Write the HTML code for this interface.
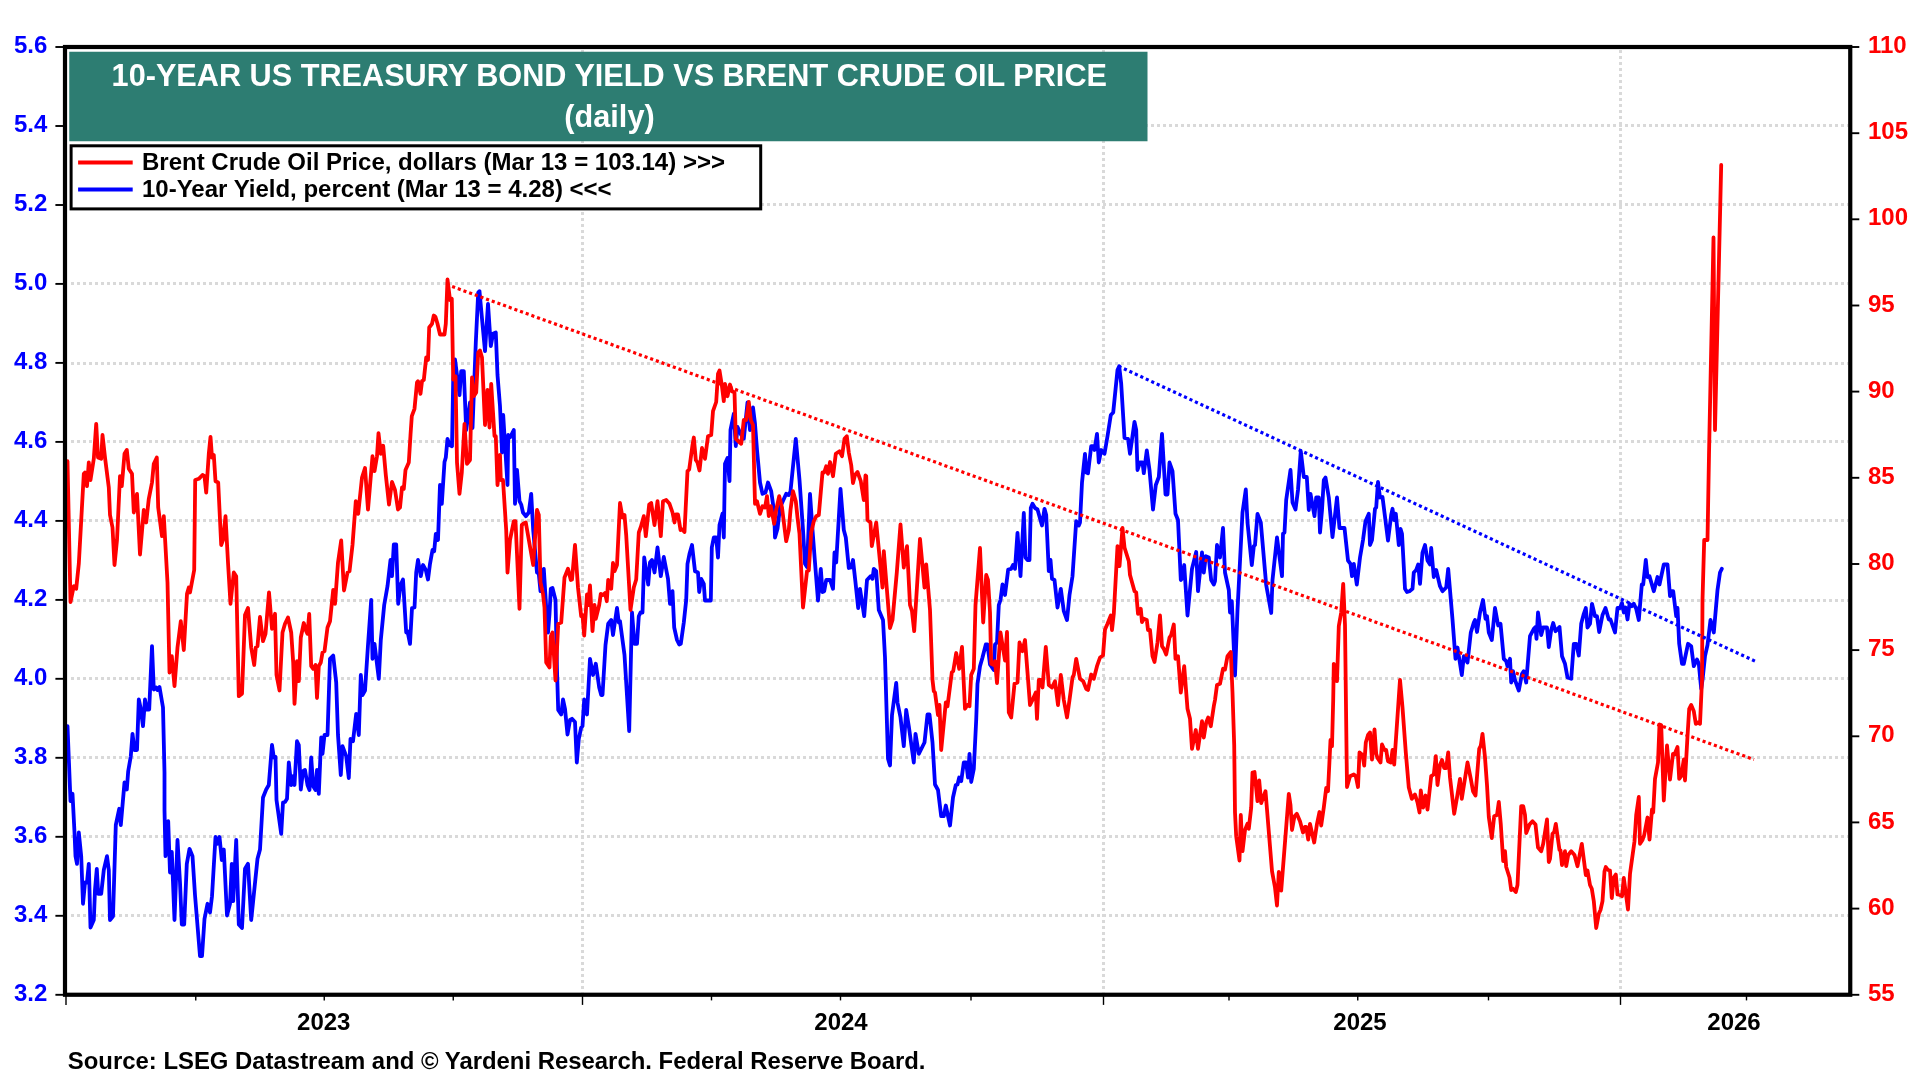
<!DOCTYPE html>
<html lang="en"><head><meta charset="utf-8"><title>10-Year US Treasury Bond Yield vs Brent Crude Oil Price</title>
<style>html,body{margin:0;padding:0;background:#fff;}body{width:1920px;height:1080px;overflow:hidden;}svg{display:block;will-change:transform;}text{font-family:"Liberation Sans",sans-serif;font-weight:bold;}</style></head><body>
<svg width="1920" height="1080" viewBox="0 0 1920 1080">
<rect width="1920" height="1080" fill="#fff"/>
<g stroke="#d9d9d9" stroke-width="3" stroke-dasharray="3 3" fill="none">
<line x1="71" y1="125.5" x2="1848" y2="125.5"/>
<line x1="71" y1="204.5" x2="1848" y2="204.5"/>
<line x1="71" y1="283.5" x2="1848" y2="283.5"/>
<line x1="71" y1="363.5" x2="1848" y2="363.5"/>
<line x1="71" y1="441.5" x2="1848" y2="441.5"/>
<line x1="71" y1="520.5" x2="1848" y2="520.5"/>
<line x1="71" y1="600.5" x2="1848" y2="600.5"/>
<line x1="71" y1="678.5" x2="1848" y2="678.5"/>
<line x1="71" y1="757.5" x2="1848" y2="757.5"/>
<line x1="71" y1="836.5" x2="1848" y2="836.5"/>
<line x1="71" y1="915.5" x2="1848" y2="915.5"/>
<line x1="582.5" y1="50" x2="582.5" y2="992.5"/>
<line x1="1103.5" y1="50" x2="1103.5" y2="992.5"/>
<line x1="1620.5" y1="50" x2="1620.5" y2="992.5"/>
</g>
<rect x="69.25" y="51.75" width="1078.25" height="89.5" fill="#2d7d72"/>
<text x="609.3" y="85.5" font-size="30.67" fill="#fff" text-anchor="middle">10-YEAR US TREASURY BOND YIELD VS BRENT CRUDE OIL PRICE</text>
<text x="609.5" y="126.6" font-size="30.67" fill="#fff" text-anchor="middle">(daily)</text>
<rect x="71.1" y="145.8" width="689.6" height="63.1" fill="#fff" stroke="#000" stroke-width="3"/>
<line x1="78.1" y1="162.6" x2="132.7" y2="162.6" stroke="#f00" stroke-width="4"/>
<line x1="78.1" y1="189.6" x2="132.7" y2="189.6" stroke="#00f" stroke-width="4"/>
<text x="142" y="169.7" font-size="24" fill="#000">Brent Crude Oil Price, dollars (Mar 13 = 103.14) &gt;&gt;&gt;</text>
<text x="142" y="196.8" font-size="24" fill="#000">10-Year Yield, percent (Mar 13 = 4.28) &lt;&lt;&lt;</text>
<path d="M67.5,726.2 L70.5,801.2 L72.5,793.8 L74.5,832.5 L75.5,856.2 L77.0,863.8 L78.8,832.5 L81.2,856.2 L83.0,903.8 L85.0,882.5 L87.0,882.5 L88.8,863.8 L90.5,927.5 L93.8,920.0 L95.0,890.0 L96.8,868.8 L98.2,893.8 L101.2,893.8 L103.8,870.0 L107.0,856.2 L108.8,870.0 L110.0,920.0 L113.0,916.2 L115.8,825.0 L119.2,808.8 L120.8,825.0 L124.5,782.5 L126.8,789.5 L128.2,771.2 L130.8,756.2 L132.5,733.8 L134.5,750.0 L137.0,750.0 L138.8,699.5 L140.5,707.5 L143.0,726.2 L145.0,699.5 L147.0,709.5 L149.2,709.5 L152.0,646.2 L153.8,689.5 L156.2,687.5 L157.5,690.0 L159.5,687.0 L163.0,707.5 L164.5,772.5 L164.5,810.0 L165.5,856.2 L168.2,821.2 L170.0,872.5 L171.8,852.0 L174.5,920.0 L177.5,840.0 L180.0,882.5 L181.8,924.5 L184.2,924.5 L186.8,863.8 L189.5,848.8 L192.5,856.2 L195.0,895.0 L200.0,956.2 L202.0,956.2 L204.5,918.8 L207.5,903.8 L210.0,912.5 L212.0,896.2 L215.5,837.0 L217.5,843.8 L219.5,837.0 L221.8,860.0 L223.8,849.5 L227.0,915.5 L230.0,903.8 L231.8,863.8 L233.2,901.2 L236.2,840.0 L238.8,924.5 L242.0,928.0 L245.0,868.8 L248.0,863.8 L251.2,920.0 L257.5,858.8 L260.0,849.5 L263.0,797.5 L266.2,789.5 L268.8,785.0 L272.0,745.0 L273.8,757.5 L275.5,757.0 L276.5,800.0 L281.2,833.8 L283.0,802.5 L285.0,802.0 L287.0,798.8 L288.8,762.5 L291.2,785.0 L293.0,776.2 L294.5,785.0 L297.0,741.2 L298.8,745.0 L300.8,789.5 L303.0,771.2 L305.0,770.0 L307.5,785.0 L309.5,790.0 L311.2,757.5 L313.2,786.2 L315.5,790.0 L317.0,770.0 L318.8,793.8 L321.2,737.5 L322.5,753.8 L324.5,735.0 L327.5,735.0 L330.0,658.8 L333.2,655.5 L336.2,682.5 L338.0,735.0 L340.8,775.0 L342.5,746.2 L346.2,756.2 L348.8,778.0 L350.5,738.8 L353.0,741.2 L356.2,713.8 L358.8,735.0 L360.8,675.0 L362.5,695.0 L365.0,690.5 L368.0,645.0 L371.2,600.0 L372.5,658.8 L374.5,643.8 L378.8,678.8 L380.8,640.0 L384.2,605.0 L387.5,586.2 L390.5,560.0 L392.0,576.2 L393.8,544.5 L396.2,544.5 L398.2,603.8 L400.5,585.0 L403.0,579.5 L406.2,632.5 L407.5,631.2 L410.0,643.8 L412.0,608.0 L414.5,607.5 L416.2,572.5 L418.0,560.0 L420.8,576.2 L423.0,565.0 L425.8,570.0 L428.0,579.5 L430.0,563.8 L432.5,550.0 L434.2,551.2 L435.8,533.8 L438.0,540.0 L440.0,485.0 L441.8,503.8 L444.5,462.0 L445.8,457.5 L447.5,438.8 L449.5,445.0 L452.0,446.2 L453.2,380.0 L455.0,359.5 L457.0,375.0 L459.5,395.0 L461.2,371.2 L463.8,371.2 L466.2,430.0 L470.0,402.5 L472.5,428.0 L475.8,342.5 L478.2,292.5 L479.5,291.2 L481.2,310.0 L485.0,351.2 L488.0,303.8 L490.8,346.2 L493.0,333.8 L495.8,332.5 L497.5,375.0 L500.0,406.2 L502.0,452.5 L503.2,415.0 L507.5,485.0 L508.2,435.0 L510.0,437.5 L513.8,430.0 L515.0,503.8 L517.0,470.0 L519.5,501.2 L521.2,504.5 L523.0,512.5 L525.8,516.2 L528.8,512.5 L531.2,493.8 L533.2,530.0 L537.0,572.5 L538.8,573.8 L540.5,591.2 L543.8,568.8 L546.2,607.5 L548.0,632.5 L549.5,613.8 L550.8,588.8 L552.5,588.0 L555.5,600.0 L557.0,670.0 L558.2,710.0 L561.2,714.5 L563.0,699.5 L565.0,708.8 L567.5,734.5 L570.0,720.0 L572.0,718.8 L575.0,722.0 L576.8,762.5 L578.8,738.8 L581.2,727.5 L582.5,726.2 L584.2,699.5 L587.0,714.5 L590.0,658.8 L593.0,675.0 L595.8,663.8 L599.2,687.5 L601.2,695.0 L602.5,695.0 L605.5,645.0 L608.2,623.8 L611.2,620.0 L613.0,635.0 L617.0,608.0 L618.8,622.5 L620.0,621.2 L624.5,655.0 L629.2,731.2 L632.0,612.5 L634.5,643.8 L637.0,643.8 L638.8,616.2 L640.5,612.5 L642.5,612.5 L644.2,557.5 L648.2,584.5 L650.0,562.5 L652.0,560.0 L654.5,572.5 L657.5,547.5 L660.8,576.2 L663.8,557.0 L668.0,578.8 L670.0,603.8 L672.5,591.2 L674.2,627.5 L677.0,640.0 L679.2,644.5 L680.8,643.8 L683.8,622.5 L686.2,600.0 L687.5,563.8 L689.5,553.8 L692.0,545.0 L695.0,571.2 L698.0,572.5 L699.2,592.0 L701.2,578.8 L703.8,583.8 L705.0,600.5 L710.8,600.5 L711.8,547.5 L713.8,537.5 L716.2,537.5 L718.0,557.5 L719.5,525.0 L722.5,513.8 L723.8,537.5 L725.0,463.8 L727.5,458.0 L729.5,481.2 L730.5,430.0 L733.8,413.8 L735.8,446.2 L737.5,427.0 L741.2,435.0 L743.8,438.8 L747.5,402.5 L750.0,430.0 L753.0,407.5 L755.0,423.8 L757.0,450.0 L760.0,482.5 L762.5,493.8 L765.5,492.5 L768.0,482.5 L771.2,491.2 L774.2,512.5 L775.0,537.5 L777.5,528.8 L780.0,507.5 L786.2,493.8 L788.8,495.0 L790.5,491.2 L795.8,438.8 L799.5,480.0 L803.0,530.0 L805.0,563.8 L807.0,567.0 L810.0,493.8 L812.5,530.0 L815.0,562.5 L818.0,600.5 L820.8,568.8 L822.5,592.0 L824.2,591.2 L826.2,580.0 L830.0,580.0 L833.0,588.8 L834.5,552.5 L836.2,562.5 L840.5,488.8 L843.8,530.0 L845.8,537.5 L848.8,568.0 L851.2,567.5 L853.0,560.0 L855.5,582.5 L858.2,608.0 L860.0,588.8 L864.2,616.2 L867.0,580.0 L870.5,576.2 L872.5,578.8 L873.8,568.8 L876.2,571.2 L878.8,610.0 L883.0,620.0 L885.0,657.5 L888.0,758.8 L890.0,765.5 L892.0,715.0 L896.2,683.0 L897.5,702.5 L900.5,717.5 L903.8,746.2 L906.2,710.0 L908.8,726.2 L913.8,762.5 L915.5,733.8 L918.8,753.8 L924.5,742.5 L927.5,714.5 L929.5,714.5 L932.5,742.5 L935.0,784.5 L938.0,790.0 L941.2,816.2 L943.8,816.2 L945.8,805.5 L950.0,825.5 L953.0,797.5 L955.8,785.0 L957.5,784.5 L959.2,777.5 L961.2,781.2 L963.8,762.5 L966.2,762.5 L968.0,777.5 L969.5,753.8 L971.2,782.0 L973.8,768.8 L976.2,720.0 L977.5,683.8 L980.0,666.2 L982.5,657.5 L985.8,644.5 L987.5,644.5 L990.0,664.5 L993.8,670.0 L995.0,644.5 L997.0,642.5 L998.8,605.0 L1000.5,600.0 L1002.5,584.5 L1005.0,595.0 L1008.2,569.5 L1011.2,568.8 L1013.0,565.0 L1015.0,568.8 L1017.5,533.0 L1020.5,576.2 L1023.8,513.0 L1025.5,557.5 L1027.5,560.0 L1029.5,560.0 L1030.8,508.0 L1032.5,503.8 L1035.0,508.0 L1037.5,509.5 L1042.0,525.5 L1044.5,508.8 L1046.2,515.0 L1048.8,571.2 L1050.5,560.0 L1052.0,578.8 L1054.5,580.0 L1057.5,607.5 L1060.8,588.8 L1063.8,611.2 L1067.0,620.0 L1069.5,595.0 L1072.5,576.2 L1076.2,521.2 L1078.8,525.5 L1080.0,522.5 L1082.0,482.5 L1085.0,453.8 L1086.2,472.5 L1088.0,473.2 L1091.2,446.2 L1093.8,446.2 L1094.5,450.0 L1097.0,433.8 L1098.8,462.5 L1101.2,450.0 L1104.5,453.8 L1107.5,436.2 L1110.8,415.0 L1113.2,412.5 L1117.5,370.0 L1119.2,366.2 L1121.2,383.8 L1124.5,438.0 L1128.0,438.8 L1130.0,453.8 L1134.5,421.8 L1136.2,430.0 L1137.5,470.0 L1140.0,462.5 L1142.5,462.5 L1143.8,473.2 L1146.8,450.5 L1149.5,470.0 L1153.0,509.5 L1155.8,485.0 L1158.8,477.0 L1162.0,433.8 L1165.5,494.5 L1167.5,494.5 L1169.5,462.5 L1172.5,471.2 L1175.5,513.8 L1178.0,520.0 L1180.8,580.0 L1181.8,578.8 L1184.2,565.0 L1187.5,615.5 L1192.0,568.8 L1196.2,552.0 L1198.0,591.2 L1202.0,552.5 L1203.8,572.5 L1205.8,556.2 L1208.8,557.5 L1211.2,580.0 L1213.8,584.5 L1215.0,581.2 L1217.0,545.0 L1220.0,557.5 L1223.0,528.0 L1225.0,572.5 L1228.8,590.0 L1230.0,612.5 L1231.8,601.2 L1235.0,675.5 L1237.5,610.0 L1242.5,512.5 L1245.8,489.5 L1247.5,522.5 L1251.8,565.0 L1253.8,546.2 L1255.0,545.0 L1257.5,513.8 L1260.8,522.5 L1266.2,585.0 L1271.2,613.0 L1272.5,580.0 L1277.0,537.5 L1282.0,576.2 L1283.0,533.8 L1284.5,532.5 L1286.2,500.0 L1290.5,470.0 L1292.5,502.5 L1295.5,509.5 L1298.0,490.0 L1300.8,451.2 L1303.8,477.0 L1306.8,477.0 L1308.8,510.0 L1310.5,493.8 L1314.5,516.2 L1316.2,497.5 L1318.8,497.5 L1320.0,532.5 L1322.0,510.0 L1323.8,480.0 L1325.5,477.5 L1328.8,497.5 L1332.5,537.0 L1337.0,497.5 L1339.5,528.0 L1344.5,528.0 L1348.0,560.5 L1350.5,563.8 L1352.0,576.2 L1353.8,563.8 L1356.8,584.5 L1360.0,557.5 L1363.0,540.0 L1365.5,521.2 L1368.8,513.8 L1370.0,545.0 L1372.0,540.0 L1375.0,508.8 L1376.2,507.5 L1378.0,482.0 L1380.0,497.5 L1382.5,497.0 L1388.0,540.5 L1391.2,515.0 L1392.5,508.8 L1394.2,520.0 L1395.8,513.8 L1398.8,545.0 L1400.5,528.8 L1402.0,533.8 L1405.0,588.8 L1407.0,592.0 L1409.5,591.2 L1412.5,588.8 L1413.8,572.5 L1416.2,570.0 L1418.2,564.5 L1420.0,583.8 L1422.5,552.5 L1425.0,545.0 L1427.5,560.5 L1430.0,564.5 L1431.2,548.0 L1433.8,577.0 L1436.2,570.0 L1440.0,586.2 L1442.5,591.2 L1446.2,587.5 L1448.2,568.8 L1452.5,619.5 L1455.5,658.8 L1457.5,647.5 L1461.8,675.0 L1463.8,656.2 L1467.5,662.5 L1470.8,632.5 L1473.8,622.5 L1475.0,620.0 L1477.0,632.0 L1480.0,612.5 L1483.0,600.0 L1485.5,618.8 L1487.0,616.2 L1488.8,632.5 L1491.8,640.0 L1495.0,608.0 L1498.2,625.5 L1500.5,623.8 L1503.8,658.8 L1506.2,661.2 L1507.5,666.2 L1510.0,658.8 L1511.2,682.5 L1513.0,671.2 L1515.0,680.0 L1518.8,690.5 L1522.0,673.8 L1523.8,671.2 L1526.2,682.5 L1530.0,636.2 L1533.8,628.8 L1535.5,627.0 L1536.5,638.8 L1538.0,612.5 L1541.2,635.0 L1543.2,627.5 L1547.0,627.5 L1548.8,647.0 L1551.2,630.0 L1553.2,623.0 L1555.5,631.2 L1559.5,627.0 L1562.0,656.2 L1565.0,663.8 L1567.5,677.5 L1571.2,678.8 L1573.8,643.8 L1576.2,643.8 L1578.8,655.5 L1581.2,623.8 L1583.8,613.8 L1585.8,608.0 L1587.5,627.5 L1590.0,623.8 L1592.0,603.8 L1595.0,616.2 L1597.0,616.2 L1599.2,632.0 L1602.5,615.0 L1605.5,608.0 L1608.8,619.5 L1610.5,619.5 L1615.0,632.5 L1617.5,608.0 L1620.0,608.0 L1622.0,603.0 L1623.8,612.5 L1625.5,607.5 L1627.5,619.5 L1629.5,603.8 L1631.8,606.2 L1633.8,603.8 L1636.2,608.8 L1638.8,620.0 L1641.8,584.5 L1643.2,584.5 L1645.8,560.0 L1647.5,577.0 L1649.5,576.2 L1653.8,591.2 L1657.5,577.0 L1659.5,584.5 L1663.8,564.5 L1667.5,564.5 L1670.0,596.2 L1671.2,591.2 L1673.2,591.2 L1676.2,616.2 L1677.5,608.0 L1679.2,643.8 L1682.0,663.8 L1683.8,663.8 L1688.0,643.8 L1691.2,646.2 L1693.8,666.2 L1697.0,659.5 L1698.8,663.8 L1701.2,688.8 L1702.5,680.0 L1705.0,656.2 L1707.5,645.0 L1710.5,620.0 L1713.8,632.5 L1717.5,590.0 L1720.0,572.5 L1721.8,568.8" fill="none" stroke="#0000ff" stroke-width="3.8" stroke-linejoin="round" stroke-linecap="round"/>
<path d="M67.5,461.2 L70.5,602.0 L73.8,586.2 L76.2,588.8 L78.8,563.8 L83.8,473.8 L85.0,472.5 L87.0,486.2 L88.8,462.5 L90.5,480.0 L93.8,458.8 L96.2,423.8 L98.0,457.5 L101.2,458.8 L102.5,435.0 L105.0,457.5 L108.8,487.5 L110.0,515.0 L112.5,527.5 L114.5,565.0 L117.0,540.0 L120.0,476.2 L121.8,486.2 L124.5,453.8 L126.8,450.0 L128.8,468.8 L132.0,473.8 L133.8,512.5 L137.0,493.8 L140.0,554.5 L143.8,510.0 L146.2,522.5 L148.8,498.8 L152.0,482.5 L153.8,463.8 L156.8,457.5 L158.2,507.5 L162.0,536.2 L163.8,516.2 L167.5,582.5 L169.5,672.5 L171.8,656.2 L174.5,686.2 L177.5,647.5 L180.8,621.2 L183.8,650.0 L187.0,593.8 L188.8,587.5 L190.0,592.5 L194.2,570.0 L195.2,480.0 L198.8,478.8 L202.5,475.0 L204.5,476.2 L206.2,492.5 L208.8,453.8 L210.5,437.0 L212.0,457.5 L213.8,455.0 L215.5,481.2 L218.2,482.5 L221.2,545.0 L223.0,540.0 L225.5,516.2 L228.0,562.5 L230.5,603.8 L233.8,572.5 L236.2,576.2 L238.8,696.2 L242.0,693.8 L245.0,615.0 L248.0,608.0 L251.2,647.5 L254.2,665.0 L255.8,647.5 L257.5,646.2 L260.0,617.0 L263.0,641.2 L265.5,633.8 L269.0,592.5 L272.0,628.8 L275.0,613.8 L276.5,675.0 L279.5,690.5 L282.5,632.5 L285.0,623.8 L288.0,617.5 L291.2,632.5 L293.2,662.5 L294.5,703.8 L297.0,661.2 L298.8,681.2 L300.8,637.5 L303.8,623.0 L306.2,631.2 L307.5,633.8 L309.2,613.8 L311.2,666.2 L313.2,668.8 L315.5,665.0 L317.0,698.0 L318.8,666.2 L320.8,662.5 L322.5,652.5 L324.5,651.2 L327.5,627.5 L330.0,621.2 L333.2,590.0 L335.0,603.8 L338.0,562.5 L341.2,540.5 L344.0,590.5 L347.5,572.5 L349.5,571.2 L352.5,545.0 L355.8,501.2 L358.2,513.8 L362.0,477.5 L365.0,468.0 L368.0,509.5 L372.5,456.2 L374.5,471.2 L377.0,456.2 L378.5,433.2 L380.8,453.8 L383.2,445.8 L385.8,475.0 L389.0,504.5 L392.0,482.0 L395.0,490.0 L398.0,509.5 L400.0,507.5 L402.0,487.5 L403.8,488.8 L405.5,470.0 L408.8,462.5 L410.5,435.0 L411.8,416.2 L414.5,408.8 L417.0,382.5 L418.0,381.2 L420.5,393.8 L422.0,381.2 L423.8,380.0 L426.2,357.5 L428.0,360.0 L429.2,327.5 L432.0,323.8 L433.8,315.5 L435.5,317.0 L437.5,323.8 L440.0,334.5 L444.5,334.5 L445.8,323.8 L447.5,279.5 L450.0,300.0 L451.8,298.8 L453.2,379.5 L455.5,376.2 L457.0,462.5 L459.5,493.8 L461.8,472.5 L464.5,423.8 L467.0,463.8 L470.0,460.0 L472.0,377.5 L473.8,396.2 L476.2,392.5 L478.2,352.5 L480.0,350.5 L482.0,357.5 L485.0,425.0 L487.5,390.0 L489.5,427.5 L491.2,383.8 L494.5,436.2 L495.8,436.2 L497.5,485.0 L500.0,455.0 L500.8,480.0 L503.0,480.0 L506.2,530.0 L507.5,572.5 L510.0,540.0 L513.8,521.2 L515.5,521.2 L519.5,608.8 L521.8,525.0 L523.2,523.8 L525.8,522.5 L533.2,565.0 L537.0,510.0 L538.8,515.0 L540.5,582.5 L543.0,593.8 L544.5,607.5 L546.2,662.5 L549.5,667.5 L550.8,636.2 L552.5,632.5 L555.5,680.5 L558.2,623.8 L561.2,622.5 L564.5,577.5 L568.0,568.8 L570.8,580.0 L572.0,579.5 L575.0,545.0 L578.0,587.5 L581.2,616.2 L582.5,615.0 L584.2,635.5 L587.0,594.5 L588.2,605.0 L590.0,585.5 L592.5,631.2 L594.5,605.0 L595.8,618.8 L599.2,605.0 L600.8,593.8 L603.0,595.0 L605.0,593.0 L606.8,601.2 L608.2,580.0 L611.2,588.8 L613.0,563.0 L614.5,571.2 L617.0,565.0 L620.0,503.0 L622.5,517.5 L624.5,515.0 L626.2,535.0 L630.5,610.0 L633.8,587.5 L636.2,579.5 L638.8,532.5 L640.8,527.0 L643.8,516.2 L645.8,536.2 L649.2,504.5 L651.2,503.0 L654.5,525.0 L657.5,501.2 L660.8,536.2 L663.0,501.2 L666.2,500.0 L669.5,503.8 L672.5,512.5 L674.5,522.5 L675.8,514.5 L678.0,514.5 L680.5,530.0 L682.5,529.5 L684.5,532.0 L687.5,471.2 L689.2,469.5 L692.5,445.0 L693.8,437.5 L695.8,460.0 L697.5,462.5 L699.5,470.5 L702.0,448.0 L705.0,458.8 L708.0,436.2 L711.2,435.0 L713.0,411.2 L716.2,402.0 L718.0,373.8 L719.5,370.5 L721.8,385.0 L723.8,401.2 L725.0,383.8 L727.5,396.2 L730.0,384.5 L732.0,391.2 L734.5,392.5 L735.8,438.8 L739.2,442.0 L741.2,443.8 L743.8,420.0 L746.2,420.0 L748.8,402.0 L750.8,420.0 L753.0,425.0 L755.0,503.8 L757.0,501.2 L760.0,513.8 L762.5,506.2 L765.0,507.5 L767.0,496.2 L768.8,516.2 L770.8,506.2 L774.2,523.8 L776.2,510.0 L779.2,496.2 L782.0,507.5 L786.2,541.2 L788.8,530.0 L790.5,510.0 L793.0,491.2 L795.8,501.2 L797.5,517.5 L799.5,533.8 L803.0,607.5 L807.0,571.2 L808.8,570.5 L811.2,532.5 L813.8,521.2 L816.2,516.2 L818.8,515.0 L822.5,472.5 L824.2,472.5 L826.2,466.2 L828.0,473.8 L830.0,462.0 L833.0,476.2 L835.8,453.8 L839.5,451.2 L842.0,456.2 L844.5,438.8 L846.8,436.2 L848.8,452.5 L851.2,465.0 L853.0,483.0 L855.0,475.0 L857.5,472.0 L860.8,481.2 L863.8,500.0 L865.5,475.5 L866.2,476.2 L867.5,520.0 L870.5,522.5 L871.8,546.2 L876.2,522.5 L882.5,587.5 L883.8,551.2 L890.0,628.0 L892.5,620.0 L896.8,572.5 L900.5,524.5 L903.8,567.5 L907.0,546.2 L910.0,605.0 L912.0,611.2 L914.2,631.2 L920.0,538.8 L924.5,587.5 L926.2,564.5 L930.0,610.0 L932.5,680.0 L933.8,691.2 L935.0,692.5 L938.0,715.0 L939.5,705.0 L941.2,750.0 L945.8,702.5 L947.5,706.2 L951.8,672.5 L953.2,671.2 L956.2,653.0 L959.2,668.8 L962.0,647.0 L965.0,708.8 L967.5,705.0 L969.5,706.2 L971.2,675.0 L973.8,668.8 L975.5,605.0 L980.0,548.0 L983.2,622.5 L986.2,575.0 L988.0,580.0 L990.0,612.5 L991.2,663.8 L993.8,665.0 L995.0,661.2 L997.0,683.0 L1000.5,632.5 L1005.0,660.5 L1007.0,632.0 L1008.8,712.5 L1011.2,717.5 L1014.5,683.8 L1017.5,682.5 L1019.5,642.5 L1022.5,651.2 L1025.0,640.0 L1030.0,705.0 L1032.5,700.0 L1035.8,692.5 L1037.0,718.8 L1038.8,680.0 L1040.5,680.0 L1042.5,687.5 L1045.8,647.0 L1048.8,685.0 L1052.0,687.5 L1055.0,681.2 L1058.0,705.0 L1060.8,675.0 L1063.8,700.0 L1067.0,717.5 L1069.5,700.0 L1072.5,677.5 L1073.8,675.0 L1076.2,658.8 L1080.0,678.8 L1083.2,681.2 L1086.2,688.8 L1088.0,690.0 L1091.2,674.5 L1093.8,678.8 L1097.0,666.2 L1100.0,657.5 L1103.0,655.5 L1105.0,629.5 L1107.5,623.8 L1110.8,615.5 L1112.0,630.0 L1113.8,613.8 L1117.5,546.2 L1119.5,566.2 L1122.5,528.0 L1124.5,547.5 L1128.8,561.2 L1130.0,575.0 L1134.5,591.2 L1136.2,592.5 L1138.0,613.8 L1140.8,608.8 L1142.0,622.0 L1143.8,618.8 L1146.8,620.0 L1148.0,630.0 L1150.0,630.0 L1152.5,656.2 L1154.5,662.0 L1157.5,642.5 L1160.0,615.5 L1162.0,646.2 L1163.8,648.8 L1166.2,654.5 L1169.5,637.5 L1171.2,635.0 L1173.8,624.5 L1175.5,658.8 L1178.0,656.2 L1180.8,692.5 L1184.2,666.2 L1187.5,708.8 L1190.0,718.8 L1192.0,748.8 L1195.8,730.0 L1198.0,748.8 L1202.0,721.2 L1203.8,737.5 L1206.2,722.5 L1208.2,717.5 L1210.8,726.2 L1213.8,706.2 L1215.0,700.0 L1217.0,685.0 L1220.0,683.8 L1223.0,668.8 L1225.0,669.5 L1227.5,656.2 L1230.8,652.0 L1232.5,692.5 L1234.2,745.0 L1235.0,812.5 L1236.2,836.2 L1239.5,860.5 L1240.8,815.0 L1242.5,851.2 L1245.0,830.0 L1247.5,823.8 L1248.8,828.8 L1251.2,807.5 L1252.5,772.5 L1254.5,772.0 L1257.5,801.2 L1259.2,780.5 L1261.2,803.0 L1265.5,791.2 L1272.0,871.2 L1275.0,887.5 L1277.0,905.5 L1278.8,872.0 L1281.2,890.5 L1283.8,857.5 L1288.8,793.8 L1290.5,805.0 L1292.0,830.0 L1294.5,816.2 L1296.8,813.8 L1300.0,821.2 L1303.0,832.5 L1305.0,827.0 L1306.2,827.0 L1308.2,839.5 L1310.0,823.8 L1314.2,842.5 L1317.0,823.8 L1319.5,812.0 L1321.2,825.5 L1323.8,807.5 L1326.2,788.0 L1328.0,791.2 L1330.5,740.0 L1332.0,746.2 L1333.2,700.0 L1333.8,663.8 L1337.0,681.2 L1338.8,626.2 L1341.2,612.5 L1343.2,583.8 L1345.0,625.0 L1347.0,787.0 L1350.0,776.2 L1353.8,774.5 L1355.8,776.2 L1358.0,787.0 L1359.5,752.5 L1362.5,755.0 L1364.2,765.5 L1365.8,742.5 L1368.0,735.0 L1370.0,732.5 L1372.0,759.5 L1374.5,729.5 L1376.2,753.8 L1377.5,758.0 L1380.5,762.5 L1382.0,744.5 L1384.5,750.0 L1386.2,750.0 L1388.0,761.2 L1390.8,762.5 L1392.5,750.0 L1394.2,764.5 L1400.0,680.0 L1402.5,707.5 L1405.8,752.5 L1408.8,787.5 L1411.8,798.8 L1415.0,794.5 L1417.5,802.5 L1419.5,812.5 L1420.8,790.5 L1423.2,807.5 L1425.5,795.5 L1427.5,809.5 L1431.2,776.2 L1433.8,774.5 L1435.8,756.2 L1437.5,785.0 L1440.0,765.0 L1442.0,760.0 L1444.2,768.0 L1446.2,768.0 L1448.2,752.5 L1450.0,777.5 L1454.2,813.8 L1457.0,797.5 L1460.0,778.8 L1461.8,798.8 L1467.5,762.5 L1470.8,778.8 L1473.0,791.2 L1475.5,795.5 L1479.2,748.8 L1480.8,745.5 L1482.5,733.8 L1485.0,757.5 L1487.0,785.0 L1488.8,817.0 L1491.8,838.0 L1494.2,816.2 L1497.0,815.0 L1498.8,802.0 L1500.8,824.5 L1503.2,861.2 L1505.0,851.2 L1506.2,867.0 L1509.5,877.5 L1511.2,890.0 L1513.0,888.8 L1515.8,892.0 L1517.5,885.0 L1521.2,806.2 L1523.2,806.2 L1525.0,815.0 L1526.2,833.0 L1529.5,824.5 L1532.5,821.2 L1535.5,824.5 L1538.0,847.5 L1541.2,851.2 L1543.2,843.8 L1547.0,819.5 L1548.8,862.0 L1550.0,858.8 L1552.5,833.8 L1554.2,832.0 L1555.8,823.8 L1559.5,850.0 L1560.5,850.5 L1562.0,865.0 L1565.0,851.2 L1566.2,866.2 L1568.2,855.0 L1571.2,851.2 L1574.5,855.0 L1577.5,866.2 L1581.8,843.8 L1585.8,875.0 L1587.5,870.5 L1590.0,885.0 L1591.8,888.8 L1593.8,901.2 L1596.2,928.0 L1598.8,913.8 L1600.5,910.0 L1602.5,901.2 L1604.5,871.2 L1605.8,867.0 L1608.0,870.0 L1610.0,870.5 L1611.8,898.0 L1613.8,877.5 L1615.8,874.5 L1617.5,894.5 L1620.0,895.0 L1622.0,896.2 L1623.8,878.0 L1628.0,909.5 L1630.0,873.8 L1634.5,841.2 L1636.2,815.0 L1638.8,797.0 L1640.0,843.8 L1642.5,840.0 L1644.2,835.0 L1647.5,817.5 L1649.5,839.5 L1652.0,809.5 L1653.2,812.5 L1655.0,778.8 L1658.0,762.5 L1659.5,724.5 L1661.2,725.0 L1663.8,800.5 L1667.0,745.5 L1670.0,779.5 L1673.0,753.8 L1674.5,754.5 L1677.5,747.0 L1679.2,778.8 L1681.2,776.2 L1683.8,759.5 L1685.0,780.5 L1687.5,736.2 L1689.2,708.8 L1691.2,705.0 L1693.8,711.2 L1695.8,723.8 L1698.0,722.5 L1700.0,723.8 L1702.0,680.0 L1702.5,600.0 L1704.2,540.0 L1707.5,540.0 L1709.0,455.0 L1713.5,237.5 L1715.0,430.0 L1721.2,165.0" fill="none" stroke="#ff0000" stroke-width="3.8" stroke-linejoin="round" stroke-linecap="round"/>
<line x1="446.5" y1="284.5" x2="1754" y2="759.6" stroke="#f00" stroke-width="3.2" stroke-dasharray="3.1 2.92"/>
<line x1="1118.5" y1="366.2" x2="1757.5" y2="662.3" stroke="#00f" stroke-width="3.2" stroke-dasharray="3.1 2.92"/>
<rect x="65.0" y="47.0" width="1785.25" height="947.75" fill="none" stroke="#000" stroke-width="4.2"/>
<g stroke="#000" stroke-width="1.9">
<line x1="55.4" y1="47.0" x2="63.5" y2="47.0"/>
<line x1="55.4" y1="126.0" x2="63.5" y2="126.0"/>
<line x1="55.4" y1="205.0" x2="63.5" y2="205.0"/>
<line x1="55.4" y1="283.9" x2="63.5" y2="283.9"/>
<line x1="55.4" y1="362.9" x2="63.5" y2="362.9"/>
<line x1="55.4" y1="441.9" x2="63.5" y2="441.9"/>
<line x1="55.4" y1="520.9" x2="63.5" y2="520.9"/>
<line x1="55.4" y1="599.9" x2="63.5" y2="599.9"/>
<line x1="55.4" y1="678.8" x2="63.5" y2="678.8"/>
<line x1="55.4" y1="757.8" x2="63.5" y2="757.8"/>
<line x1="55.4" y1="836.8" x2="63.5" y2="836.8"/>
<line x1="55.4" y1="915.8" x2="63.5" y2="915.8"/>
<line x1="55.4" y1="994.8" x2="63.5" y2="994.8"/>
<line x1="1852" y1="47.0" x2="1859.3" y2="47.0"/>
<line x1="1852" y1="133.2" x2="1859.3" y2="133.2"/>
<line x1="1852" y1="219.3" x2="1859.3" y2="219.3"/>
<line x1="1852" y1="305.5" x2="1859.3" y2="305.5"/>
<line x1="1852" y1="391.6" x2="1859.3" y2="391.6"/>
<line x1="1852" y1="477.8" x2="1859.3" y2="477.8"/>
<line x1="1852" y1="564.0" x2="1859.3" y2="564.0"/>
<line x1="1852" y1="650.1" x2="1859.3" y2="650.1"/>
<line x1="1852" y1="736.3" x2="1859.3" y2="736.3"/>
<line x1="1852" y1="822.4" x2="1859.3" y2="822.4"/>
<line x1="1852" y1="908.6" x2="1859.3" y2="908.6"/>
<line x1="1852" y1="994.8" x2="1859.3" y2="994.8"/>
<line x1="66" y1="996" x2="66" y2="1004.9" stroke-width="1.4"/>
<line x1="582.5" y1="996" x2="582.5" y2="1004.9" stroke-width="1.4"/>
<line x1="1103.5" y1="996" x2="1103.5" y2="1004.9" stroke-width="1.4"/>
<line x1="1620.5" y1="996" x2="1620.5" y2="1004.9" stroke-width="1.4"/>
<line x1="195.75" y1="996" x2="195.75" y2="1000.4" stroke-width="1.4"/>
<line x1="324.25" y1="996" x2="324.25" y2="1000.4" stroke-width="1.4"/>
<line x1="453.25" y1="996" x2="453.25" y2="1000.4" stroke-width="1.4"/>
<line x1="711.5" y1="996" x2="711.5" y2="1000.4" stroke-width="1.4"/>
<line x1="840.5" y1="996" x2="840.5" y2="1000.4" stroke-width="1.4"/>
<line x1="971" y1="996" x2="971" y2="1000.4" stroke-width="1.4"/>
<line x1="1229" y1="996" x2="1229" y2="1000.4" stroke-width="1.4"/>
<line x1="1357.75" y1="996" x2="1357.75" y2="1000.4" stroke-width="1.4"/>
<line x1="1488.5" y1="996" x2="1488.5" y2="1000.4" stroke-width="1.4"/>
<line x1="1746.5" y1="996" x2="1746.5" y2="1000.4" stroke-width="1.4"/>
</g>
<text x="47.3" y="52.8" font-size="24" fill="#0000ff" text-anchor="end">5.6</text>
<text x="47.3" y="131.8" font-size="24" fill="#0000ff" text-anchor="end">5.4</text>
<text x="47.3" y="210.8" font-size="24" fill="#0000ff" text-anchor="end">5.2</text>
<text x="47.3" y="289.7" font-size="24" fill="#0000ff" text-anchor="end">5.0</text>
<text x="47.3" y="368.7" font-size="24" fill="#0000ff" text-anchor="end">4.8</text>
<text x="47.3" y="447.7" font-size="24" fill="#0000ff" text-anchor="end">4.6</text>
<text x="47.3" y="526.7" font-size="24" fill="#0000ff" text-anchor="end">4.4</text>
<text x="47.3" y="605.7" font-size="24" fill="#0000ff" text-anchor="end">4.2</text>
<text x="47.3" y="684.6" font-size="24" fill="#0000ff" text-anchor="end">4.0</text>
<text x="47.3" y="763.6" font-size="24" fill="#0000ff" text-anchor="end">3.8</text>
<text x="47.3" y="842.6" font-size="24" fill="#0000ff" text-anchor="end">3.6</text>
<text x="47.3" y="921.6" font-size="24" fill="#0000ff" text-anchor="end">3.4</text>
<text x="47.3" y="1000.6" font-size="24" fill="#0000ff" text-anchor="end">3.2</text>
<text x="1868" y="53.1" font-size="24" fill="#ff0000">110</text>
<text x="1868" y="139.3" font-size="24" fill="#ff0000">105</text>
<text x="1868" y="225.4" font-size="24" fill="#ff0000">100</text>
<text x="1868" y="311.6" font-size="24" fill="#ff0000">95</text>
<text x="1868" y="397.7" font-size="24" fill="#ff0000">90</text>
<text x="1868" y="483.9" font-size="24" fill="#ff0000">85</text>
<text x="1868" y="570.1" font-size="24" fill="#ff0000">80</text>
<text x="1868" y="656.2" font-size="24" fill="#ff0000">75</text>
<text x="1868" y="742.4" font-size="24" fill="#ff0000">70</text>
<text x="1868" y="828.5" font-size="24" fill="#ff0000">65</text>
<text x="1868" y="914.7" font-size="24" fill="#ff0000">60</text>
<text x="1868" y="1000.9" font-size="24" fill="#ff0000">55</text>
<text x="323.75" y="1029.5" font-size="24" fill="#000" text-anchor="middle">2023</text>
<text x="841" y="1029.5" font-size="24" fill="#000" text-anchor="middle">2024</text>
<text x="1360" y="1029.5" font-size="24" fill="#000" text-anchor="middle">2025</text>
<text x="1734" y="1029.5" font-size="24" fill="#000" text-anchor="middle">2026</text>
<text x="67.8" y="1068.6" font-size="23.9" fill="#000">Source: LSEG Datastream and © Yardeni Research. Federal Reserve Board.</text>
</svg></body></html>
